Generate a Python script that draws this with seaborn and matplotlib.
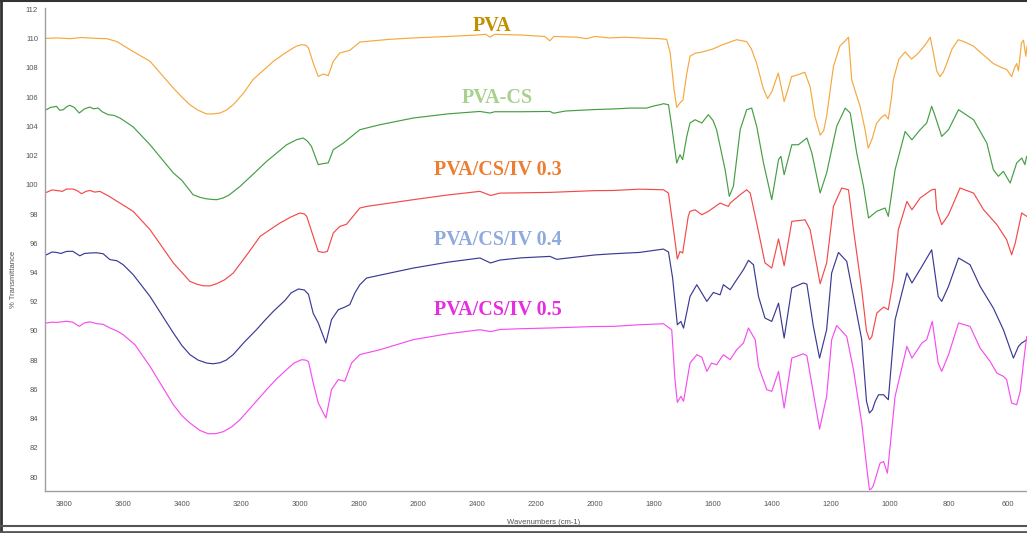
import matplotlib
matplotlib.use("Agg")
import matplotlib.pyplot as plt
import seaborn as sns
import pandas as pd
from matplotlib.ticker import MultipleLocator
from matplotlib.lines import Line2D

# ---------------- data ----------------
pva_wn = [3864, 3820, 3780, 3740, 3700, 3655, 3620, 3576, 3508, 3429, 3400, 3373, 3345, 3316, 3295, 3271, 3250,
          3226, 3190, 3159, 3090, 3055, 3023, 3010,
          2994, 2980, 2971, 2955, 2938, 2921, 2904, 2887, 2865, 2831, 2797, 2700, 2617, 2500, 2400, 2370, 2356, 2340,
          2250, 2170, 2153, 2140, 2060, 2030, 2000, 1950, 1900, 1850, 1780, 1757, 1745, 1732, 1723, 1712, 1702,
          1690, 1678, 1661, 1634, 1600, 1566, 1520, 1486, 1470, 1452, 1430, 1415, 1400, 1379, 1370, 1359, 1345,
          1334, 1317, 1289, 1271, 1255, 1237, 1225, 1215, 1192, 1170, 1150, 1141, 1130, 1115, 1102, 1085, 1074,
          1060, 1046, 1030, 1017, 1006, 995, 989, 970, 949, 927, 905, 880, 864, 854, 842, 831, 820, 808, 790,
          769, 750, 718, 690, 650, 620, 605, 595, 588, 580, 571, 565, 560, 555, 548, 540, 536]
pva_t = [110.02, 110.05, 110.0, 110.08, 110.03, 110.0, 109.8, 109.25, 108.45, 106.62, 106.0, 105.48, 105.1, 104.85,
         104.85, 104.91, 105.1, 105.48, 106.3, 107.2, 108.45, 108.95, 109.36, 109.5,
         109.59, 109.55, 109.36, 108.33, 107.42, 107.58, 107.47, 108.45, 109.02, 109.2,
         109.77, 109.95, 110.05, 110.15, 110.25, 110.3, 110.1, 110.3, 110.25, 110.15, 109.85, 110.15, 110.1,
         110.0, 110.15, 110.05, 110.1, 110.05, 110.0, 109.95, 109.0, 106.5, 105.3, 105.6, 105.8, 107.5, 108.8,
         109.0, 109.1, 109.3, 109.6, 109.93, 109.8, 109.3, 108.3, 106.6, 105.9, 106.4, 107.65, 106.8, 105.7,
         106.6, 107.4, 107.5, 107.7, 106.7, 104.7, 103.4, 103.7, 104.7, 108.1, 109.5, 109.9, 110.1, 107.2,
         106.2, 105.4, 103.8, 102.5, 103.2, 104.2, 104.6, 104.8, 104.5, 106.0, 107.2, 108.6, 109.1, 108.6,
         109.0, 109.6, 110.1, 109.1, 107.8, 107.4, 107.7, 108.3, 109.3, 109.93, 109.8, 109.5, 109.0, 108.3,
         108.0, 107.9, 107.6, 107.4, 107.9, 108.3, 107.8, 108.7, 109.7, 109.9, 108.8, 109.5]

cs_wn = [3864, 3859, 3845, 3836, 3825, 3814, 3802, 3790, 3780, 3765, 3748, 3730, 3712, 3700, 3684, 3670, 3650,
         3630, 3610, 3590, 3565, 3508, 3429, 3400, 3362, 3340, 3320, 3300, 3282, 3260, 3240, 3203, 3160, 3113,
         3045, 3010, 2989, 2975, 2961, 2938, 2921,
         2904, 2887, 2853, 2797, 2729, 2616, 2500, 2390, 2356, 2340, 2250, 2153, 2140, 2100, 2000, 1938, 1880,
         1825, 1800, 1780, 1768, 1751, 1740, 1723, 1712, 1703, 1689, 1678, 1661, 1638, 1616, 1600, 1588, 1559,
         1545, 1531, 1508, 1486, 1469, 1452, 1429, 1401, 1378, 1370, 1359, 1333, 1311, 1282, 1265, 1237, 1215,
         1181, 1152, 1135, 1113, 1090, 1073, 1045, 1017, 1006, 983, 949, 926, 898, 876, 859, 847, 825, 802,
         768, 717, 672, 650, 633, 616, 593, 571, 554, 543, 537]
cs_t = [105.2, 105.14, 105.3, 105.32, 105.37, 105.1, 105.14, 105.35, 105.44, 105.3, 104.91, 105.2, 105.32,
        105.2, 105.25, 105.0, 104.8, 104.75, 104.57, 104.3, 103.96, 102.74, 100.81, 100.3, 99.32, 99.15, 99.05,
        99.0, 98.98, 99.1, 99.3, 99.89, 100.7, 101.6, 102.74, 103.1, 103.2, 103.0, 102.63, 101.38, 101.45,
        101.5, 102.4, 102.85, 103.77, 104.11, 104.57,
        104.85, 105.02, 104.91, 105.0, 105.0, 105.02, 104.9, 105.05, 105.15, 105.19, 105.25, 105.25, 105.4,
        105.48, 105.55, 105.48, 104.0, 101.49, 102.06, 101.72, 103.31, 104.23, 104.45, 104.23, 104.8, 104.4,
        103.77, 101.03, 99.21, 99.89, 103.77, 105.14, 105.25, 104.0, 101.49, 98.98, 101.72, 101.95, 100.69,
        102.74, 102.74, 103.2, 102.17, 99.44, 100.81, 104.0, 105.25, 104.91, 102.17, 99.89, 97.73, 98.19,
        98.41, 97.84, 101.03, 103.65, 103.08, 103.77, 104.23, 105.37, 104.68, 103.31, 103.77, 105.14, 104.45,
        102.85, 101.03, 100.58, 100.92, 100.12, 101.49, 101.83, 101.38, 101.95]

iv3_wn = [3864, 3859, 3840, 3825, 3805, 3791, 3769, 3755, 3740, 3725, 3712, 3695, 3678, 3650, 3630, 3610, 3565,
          3508, 3429, 3400, 3373, 3350, 3328, 3305, 3282, 3255, 3226, 3180, 3135, 3100, 3068, 3030, 3000, 2985,
          2977, 2955, 2938, 2921, 2907, 2887, 2865, 2842,
          2797, 2774, 2616, 2500, 2390, 2354, 2322, 2250, 2153, 2000, 1938, 1850, 1768, 1751, 1734, 1721, 1712,
          1703, 1684, 1678, 1661, 1638, 1616, 1576, 1548, 1542, 1508, 1486, 1474, 1452, 1424, 1401, 1378, 1359,
          1333, 1288, 1271, 1237, 1215, 1192, 1164, 1141, 1124, 1096, 1080, 1070, 1062, 1045, 1022, 1006, 989,
          972, 943, 926, 898, 859, 847, 842, 825, 802, 763, 717, 683, 638, 605, 588, 576, 554, 537]
iv3_t = [99.5, 99.48, 99.65, 99.61, 99.55, 99.71, 99.71, 99.6, 99.39, 99.55, 99.61, 99.5, 99.55, 99.25, 99.0,
         98.75, 98.18, 96.93, 94.65, 94.0, 93.39, 93.2, 93.09, 93.08, 93.23, 93.5, 93.96, 95.2, 96.47, 96.95,
         97.38, 97.8, 98.07, 98.0, 97.84, 96.47, 95.44,
         95.37, 95.44, 96.7, 97.15, 97.3, 98.41, 98.52, 98.98, 99.3, 99.55, 99.27, 99.43, 99.45, 99.48, 99.6,
         99.61, 99.7, 99.66, 99.43, 96.93, 94.92, 95.44, 95.33, 97.84, 98.18, 98.29, 97.95, 98.18, 98.75,
         98.52, 98.75, 99.32, 99.66, 99.43, 97.38, 94.65, 94.3, 96.3, 94.46, 97.5, 97.6, 96.93, 93.23, 94.65,
         98.52, 99.78, 99.66, 96.93, 92.82, 90.0, 89.4, 89.6, 91.22, 91.63, 91.45, 93.5, 96.93, 98.86, 98.29,
         99.1, 99.66, 99.7, 98.29, 97.27, 97.95, 99.78, 99.43, 98.29, 97.27, 96.24, 95.21, 96.0, 98.07, 97.84]

iv4_wn = [3864, 3859, 3840, 3825, 3810, 3791, 3770, 3746, 3730, 3712, 3690, 3667, 3644, 3620, 3599, 3565, 3508,
          3429, 3400, 3373, 3345, 3316, 3295, 3271, 3250, 3226, 3190, 3147, 3120, 3090, 3050, 3030, 3005, 2985,
          2971, 2955, 2938, 2912, 2893, 2870, 2848, 2831, 2814,
          2797, 2774, 2616, 2500, 2390, 2354, 2322, 2250, 2153, 2130, 2000, 1938, 1850, 1768, 1751, 1737, 1721,
          1709, 1700, 1678, 1655, 1621, 1599, 1576, 1565, 1542, 1520, 1497, 1480, 1463, 1446, 1424, 1401, 1378,
          1359, 1333, 1294, 1282, 1260, 1239, 1215, 1198, 1175, 1147, 1124, 1096, 1080, 1070, 1060, 1050, 1039,
          1022, 1006, 983, 943, 926, 892, 859, 837, 825, 802, 768, 729, 695, 650, 616, 582, 565, 554, 537]
iv4_t = [95.25, 95.21, 95.4, 95.37, 95.3, 95.44, 95.45, 95.14, 95.3, 95.33, 95.35, 95.28, 94.88, 94.8, 94.53,
         93.85, 92.36, 89.86, 89.0, 88.38, 88.0, 87.8, 87.75, 87.82, 88.0, 88.38, 89.2, 90.09, 90.7, 91.34,
         92.1, 92.6, 92.87, 92.8, 92.5, 91.2, 90.55, 89.17, 90.77,
         91.45, 91.63, 91.8, 92.59, 93.16, 93.62, 94.3, 94.7, 94.99, 94.65, 94.85, 95.0, 95.1, 94.9, 95.2,
         95.28, 95.37, 95.6, 95.4, 93.62, 90.42, 90.65, 90.19, 92.36, 93.16, 92.02, 92.63, 92.47, 93.16, 92.82,
         93.5, 94.19, 94.83, 94.53, 92.36, 90.88, 90.65, 91.9, 89.51, 92.94, 93.28, 93.2, 90.31, 88.14, 90.08,
         93.96, 95.37, 94.76, 92.36, 89.39, 85.2, 84.38, 84.6, 85.2, 85.63, 85.63, 85.29, 90.76, 93.96, 93.28,
         94.42, 95.55, 92.36, 92.02, 93.05, 94.99, 94.53, 93.05, 91.56, 90.08, 88.14, 88.94, 89.17, 89.39]

iv5_wn = [3864, 3859, 3840, 3825, 3791, 3770, 3748, 3730, 3712, 3690, 3667, 3644, 3620, 3599, 3559, 3508, 3429,
          3400, 3373, 3340, 3311, 3285, 3260, 3230, 3203, 3160, 3113, 3080, 3045, 3020, 2994, 2980, 2971, 2955,
          2938, 2912, 2893, 2870, 2848, 2825, 2797, 2729,
          2616, 2500, 2390, 2354, 2320, 2250, 2153, 2000, 1938, 1850, 1768, 1740, 1729, 1721, 1709, 1700, 1678,
          1655, 1638, 1621, 1605, 1588, 1565, 1542, 1520, 1497, 1480, 1457, 1446, 1418, 1401, 1378, 1359, 1333,
          1294, 1282, 1260, 1239, 1215, 1198, 1181, 1147, 1124, 1096, 1080, 1070, 1063, 1057, 1034, 1022, 1009,
          983, 943, 926, 892, 876, 857, 837, 825, 802, 768, 729, 695, 661, 638, 616, 605, 588, 571, 559, 548, 537]
iv5_t = [90.55, 90.54, 90.6, 90.58, 90.66, 90.6, 90.31, 90.55, 90.62, 90.5, 90.45, 90.2, 90.0, 89.74, 89.05,
         87.57, 84.95, 84.2, 83.7, 83.2, 82.96, 82.97, 83.1, 83.45, 83.93, 84.9, 85.98, 86.7, 87.35, 87.8,
         88.03, 88.0, 87.9, 86.44, 85.07, 84.04, 85.98, 86.67,
         86.55, 87.8, 88.38, 88.71, 89.4, 89.8, 90.08, 89.95, 90.1, 90.15, 90.2, 90.3, 90.31, 90.42, 90.49,
         90.08, 86.66, 85.11, 85.52, 85.18, 87.8, 88.37, 88.2, 87.23, 87.8, 87.68, 88.37, 88.03, 88.71, 89.17,
         90.2, 89.39, 87.57, 85.98, 85.86, 87.23, 84.72, 88.14, 88.43, 88.3, 85.75, 83.28, 85.52, 89.39, 90.37,
         89.62, 87.34, 83.69, 80.8, 79.13, 79.2, 79.4, 80.95, 81.06, 80.26, 85.52, 88.94, 88.14, 89.17, 89.4,
         90.65, 87.8, 87.23, 88.37, 90.54, 90.31, 88.83, 87.91, 87.11, 86.89, 86.66, 85.06, 84.95, 85.86, 87.8,
         89.62]

series_names = ["PVA", "PVA-CS", "PVA/CS/IV 0.3", "PVA/CS/IV 0.4", "PVA/CS/IV 0.5"]
line_colors = ["#f5a83f", "#459e45", "#f34a4a", "#3a3a94", "#f54ef0"]
label_colors = ["#bf9000", "#a9d18e", "#ed7d31", "#8faadc", "#e62ee0"]
label_pos_y = [110.9, 105.95, 101.0, 96.2, 91.4]

x_ticks = list(range(3800, 599, -200))
y_ticks = list(range(80, 113, 2))

# ---------------- build long table ----------------
frames = []
for name, wn, t in zip(series_names,
                       [pva_wn, cs_wn, iv3_wn, iv4_wn, iv5_wn],
                       [pva_t, cs_t, iv3_t, iv4_t, iv5_t]):
    frames.append(pd.DataFrame({"wn": wn, "T": t, "sample": name}))
df = pd.concat(frames, ignore_index=True)

sns.set_style("white")
plt.rcParams["font.family"] = ["Liberation Sans", "DejaVu Sans"]

fig = plt.figure(figsize=(10.27, 5.33), dpi=100)
ax = fig.add_axes([0.0438, 0.079, 0.9562, 0.906])

sns.lineplot(data=df, x="wn", y="T", hue="sample", palette=dict(zip(series_names, line_colors)),
             estimator=None, sort=False, linewidth=0.85, legend=False, ax=ax)

ax.set_xlim(3864, 536)
ax.set_ylim(79.05, 112.1)
ax.set_xticks(x_ticks)
ax.set_yticks(y_ticks)
ax.xaxis.set_minor_locator(MultipleLocator(50))
ax.yaxis.set_minor_locator(MultipleLocator(0.5))
ax.tick_params(axis="both", which="major", direction="out", length=3, width=0.8,
               color="#666666", labelsize=5.5, labelcolor="#555555", pad=2)
ax.tick_params(axis="both", which="minor", direction="out", length=1.5, width=0.6, color="#777777")
ax.tick_params(axis="x", which="major", pad=4)
ax.set_xlabel("")
ax.set_ylabel("")
for s in ["top", "right"]:
    ax.spines[s].set_visible(False)
for s in ["left", "bottom"]:
    ax.spines[s].set_color("#a0a0a0")
    ax.spines[s].set_linewidth(1.0)

# sample labels
for name, col, yv in zip(series_names, label_colors, label_pos_y):
    ax.text(2350 if name == "PVA" else 2330, yv, name, color=col, fontsize=14.5, fontweight="bold",
            family=["Liberation Serif", "DejaVu Serif"], ha="center", va="center")

fig.text(0.0135, 0.475, "% Transmittance", rotation=90, fontsize=5.5, color="#555555",
         ha="center", va="center")
fig.text(0.4935, 0.02, "Wavenumbers (cm-1)", fontsize=5.5, color="#555555", ha="left", va="center")

# outer frame of the screenshot
fig.add_artist(Line2D([0.001, 0.001], [0, 1], transform=fig.transFigure, color="#333333", lw=2))
fig.add_artist(Line2D([0, 1], [0.999, 0.999], transform=fig.transFigure, color="#333333", lw=1.5))
fig.add_artist(Line2D([0, 1], [0.013, 0.013], transform=fig.transFigure, color="#555555", lw=1.5))
fig.add_artist(Line2D([0, 1], [0.002, 0.002], transform=fig.transFigure, color="#555555", lw=2))

fig.savefig("out.png", dpi=100, facecolor="white")
